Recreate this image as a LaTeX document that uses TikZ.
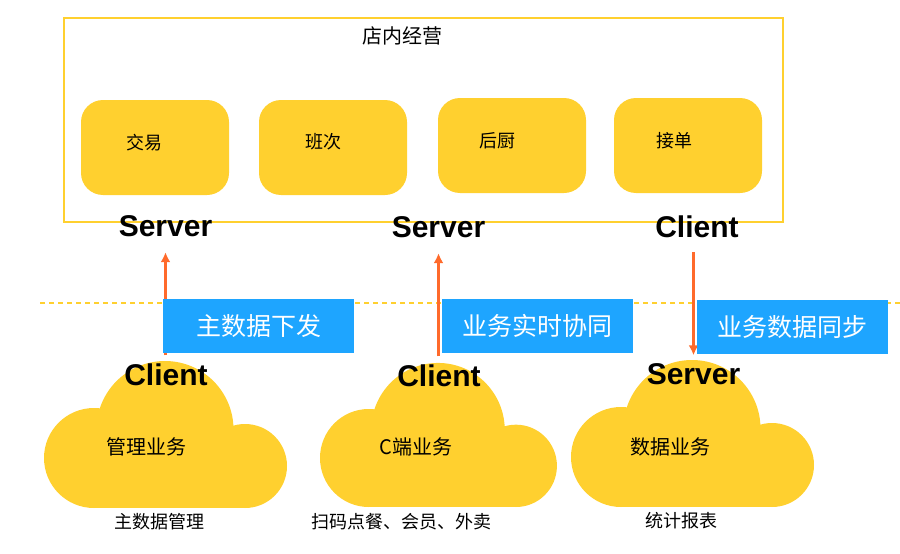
\documentclass[tikz,border=0pt]{standalone}
\usepackage{fontspec}
\usepackage{tikz}
\usetikzlibrary{arrows.meta}
\setmainfont{Liberation Sans}
\newfontfamily\cjk{Noto Sans CJK SC}
\definecolor{shopyellow}{HTML}{FFD02F}
\definecolor{syncblue}{HTML}{1EA5FF}
\definecolor{floworange}{HTML}{FF6A2B}
\tikzset{
  cloudshape/.pic={
    \fill[shopyellow] (50,-50) circle (50) (121,-78.5) circle (68.5) (201,-42) circle (42);
    \fill[shopyellow] (50,0) rectangle (201,-60);
  }
}

\begin{document}
\begin{tikzpicture}[x=1pt,y=-1pt,
  shopbox/.style={fill=shopyellow,rounded corners=22pt,minimum width=148pt,minimum height=95pt,inner sep=0pt},
  rolelabel/.style={font=\fontsize{30}{30}\selectfont\bfseries,inner sep=0pt,minimum height=38pt},
  syncbox/.style={fill=syncblue,text=white,font=\cjk\fontsize{25}{25}\selectfont,minimum width=191pt,minimum height=54pt,inner sep=0pt},
  smalltext/.style={font=\cjk\fontsize{18}{18}\selectfont,inner sep=0pt},
  cloudtext/.style={font=\cjk\fontsize{20}{20}\selectfont,inner sep=0pt},
  flow/.style={floworange,line width=2.2pt,-{Latex[length=10pt,width=10pt]}}]
\useasboundingbox (0,0) rectangle (900,554);
% shop frame and the four boxes
\node (shopframe) [draw=shopyellow,line width=2pt,minimum width=719pt,minimum height=204pt,inner sep=0pt] at (423.5,120) {};
\node (shoptitle) [cloudtext] at (402,36) {店内经营};
\node (tradebox) [shopbox] at (155,147.5) {};
\node (shiftbox) [shopbox] at (333,147.5) {};
\node (kitchenbox) [shopbox] at (512,145.5) {};
\node (orderbox) [shopbox] at (688,145.5) {};
\node (tradetext) [smalltext] at (144,143) {交易};
\node (shifttext) [smalltext] at (323,142) {班次};
\node (kitchentext) [smalltext] at (497,141) {后厨};
\node (ordertext) [smalltext] at (674,141) {接单};
% divider
\coordinate (dividerL) at (40,303);
\coordinate (dividerR) at (900,303);
\draw [shopyellow,line width=1.5pt,dash pattern=on 5pt off 4pt] (dividerL) -- (dividerR);
% clouds
\pic at (44,508) {cloudshape};
\pic [xscale=.975,yscale=.98] at (320,507) {cloudshape};
\pic at (571,507) {cloudshape};
\node (cloudtextA) [cloudtext] at (146,447) {管理业务};
\node (cloudtextB) [cloudtext] at (416,447) {C端业务};
\node (cloudtextC) [cloudtext] at (670,447) {数据业务};
\node (captionA) [smalltext] at (159,522) {主数据管理};
\node (captionB) [smalltext] at (401,522) {扫码点餐、会员、外卖};
\node (captionC) [smalltext] at (681,521) {统计报表};
% roles
\node (serverA) [rolelabel] at (165.5,226.5) {Server};
\node (serverB) [rolelabel] at (438.5,227.5) {Server};
\node (clientC) [rolelabel] at (697,226.5) {Client};
\node (clientA) [rolelabel] at (166,374.5) {Client};
\node (clientB) [rolelabel] at (439,375.5) {Client};
\node (serverC) [rolelabel] at (693.5,374.5) {Server};
% flows
\draw [flow,shorten >=6.5pt] (clientA.north -| serverA) -- (serverA.south);
\draw [flow,shorten >=6.5pt] (clientB.north -| serverB) -- (serverB.south);
\draw [flow,shorten <=6.5pt] (serverC |- clientC.south) -- (serverC.north);
% blue labels
\node (syncboxA) [syncbox] at (258.5,326) {主数据下发};
\node (syncboxB) [syncbox] at (537.5,326) {业务实时协同};
\node (syncboxC) [syncbox] at (792,327) {业务数据同步};
\end{tikzpicture}
\end{document}
